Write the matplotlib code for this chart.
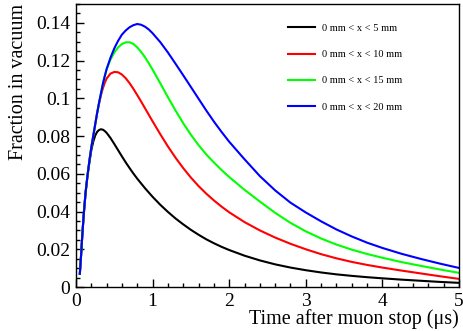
import matplotlib

matplotlib.use("Agg")
import matplotlib.pyplot as plt
from matplotlib.ticker import FuncFormatter, MultipleLocator

# time after muon stop (us), shared sampling for all curves
time_us = [0.05, 0.065, 0.08, 0.1, 0.125, 0.15, 0.175, 0.2, 0.225, 0.25, 0.275,
           0.3, 0.325, 0.35, 0.375, 0.4, 0.45, 0.5, 0.55, 0.6, 0.65, 0.7, 0.75,
           0.8, 0.85, 0.9, 0.95, 1.0, 1.1, 1.2, 1.3, 1.4, 1.5, 1.6, 1.7, 1.8,
           1.9, 2.0, 2.2, 2.4, 2.6, 2.8, 3.0, 3.2, 3.4, 3.6, 3.8, 4.0, 4.25,
           4.5, 4.75, 5.0]

frac_5mm = [0.007, 0.016, 0.026, 0.038, 0.050, 0.059, 0.066, 0.0725, 0.077,
            0.0802, 0.0822, 0.0832, 0.0836, 0.0834, 0.0827, 0.0817, 0.079,
            0.0758, 0.0725, 0.0692, 0.066, 0.063, 0.0601, 0.0574, 0.0549,
            0.0524, 0.0501, 0.0478, 0.0436, 0.0398, 0.0363, 0.0332, 0.0303,
            0.0277, 0.0253, 0.0232, 0.0213, 0.0196, 0.0166, 0.0141, 0.012,
            0.0103, 0.0089, 0.0077, 0.0067, 0.0059, 0.0052, 0.0046, 0.0039,
            0.0033, 0.0027, 0.0022]
frac_10mm = [0.007, 0.016, 0.026, 0.038, 0.050, 0.059, 0.067, 0.074, 0.080,
             0.086, 0.092, 0.097, 0.1015, 0.1052, 0.1082, 0.1105, 0.1131,
             0.114, 0.1138, 0.1126, 0.1106, 0.108, 0.105, 0.1017, 0.0983,
             0.0948, 0.0913, 0.0878, 0.081, 0.0745, 0.0685, 0.063, 0.058,
             0.0535, 0.0495, 0.0459, 0.0426, 0.0396, 0.0344, 0.030, 0.0262,
             0.0229, 0.020, 0.0174, 0.0152, 0.0133, 0.0117, 0.0103, 0.0087,
             0.0072, 0.0057, 0.0043]
frac_15mm = [0.007, 0.016, 0.026, 0.038, 0.050, 0.059, 0.067, 0.074, 0.080,
             0.086, 0.092, 0.0975, 0.1025, 0.1075, 0.1117, 0.1155, 0.1205,
             0.1243, 0.127, 0.1288, 0.1297, 0.1297, 0.1288, 0.127, 0.1246,
             0.1218, 0.1186, 0.1152, 0.108, 0.1006, 0.0935, 0.0868, 0.0807,
             0.0752, 0.0703, 0.066, 0.062, 0.0583, 0.0515, 0.0453, 0.0393,
             0.034, 0.0295, 0.0257, 0.0225, 0.0198, 0.0175, 0.0155, 0.0132,
             0.0112, 0.0093, 0.0075]
frac_20mm = [0.007, 0.016, 0.026, 0.038, 0.050, 0.059, 0.067, 0.074, 0.080,
             0.086, 0.092, 0.0975, 0.1025, 0.1075, 0.1117, 0.1155, 0.1215,
             0.1265, 0.1305, 0.1338, 0.136, 0.1377, 0.1388, 0.1394, 0.139,
             0.138, 0.1365, 0.1345, 0.1298, 0.1243, 0.1183, 0.1122, 0.106,
             0.0998, 0.0936, 0.0877, 0.0822, 0.077, 0.0677, 0.0588, 0.0512,
             0.0447, 0.0395, 0.0348, 0.0305, 0.0268, 0.0235, 0.0207, 0.0176,
             0.0149, 0.0124, 0.0101]

labels = ["0 mm < x < 5 mm", "0 mm < x < 10 mm", "0 mm < x < 15 mm", "0 mm < x < 20 mm"]
colors = ["black", "#ff0000", "#00ff00", "#0000ff"]

plt.rcParams["font.family"] = ["Liberation Serif", "DejaVu Serif"]

fig = plt.figure(figsize=(4.63, 3.31), dpi=100)
ax = fig.add_axes([76 / 463, 1 - 287 / 331, 383 / 463, 283 / 331])

for series, label, color in zip([frac_5mm, frac_10mm, frac_15mm, frac_20mm], labels, colors):
    ax.plot(time_us, series, color=color, linewidth=1.5, label=label)

ax.set_xlim(0, 5)
ax.set_ylim(0, 0.15)
ax.xaxis.set_major_locator(MultipleLocator(1))
ax.xaxis.set_minor_locator(MultipleLocator(0.2))
ax.yaxis.set_major_locator(MultipleLocator(0.02))
ax.yaxis.set_minor_locator(MultipleLocator(0.005))
ax.yaxis.set_major_formatter(FuncFormatter(lambda v, _: f"{v:g}"))
ax.tick_params(which="both", direction="in", top=False, right=False,
               labelsize=14, width=1.0)
ax.tick_params(which="major", length=6, pad=4)
ax.tick_params(which="minor", length=3)
for spine in ax.spines.values():
    spine.set_linewidth(1.0)

ax.set_xlabel("Time after muon stop (μs)", loc="right", fontsize=14.5, labelpad=0)
ax.set_ylabel("Fraction in vacuum", loc="top", fontsize=14.5, labelpad=6)

ax.legend(loc="upper left", bbox_to_anchor=(0.553, 0.93), frameon=False,
          fontsize=7.5, handlelength=2.6, handletextpad=0.67, labelspacing=1.62,
          borderpad=0, borderaxespad=0)

fig.savefig("out.png", dpi=100)
plt.close(fig)
